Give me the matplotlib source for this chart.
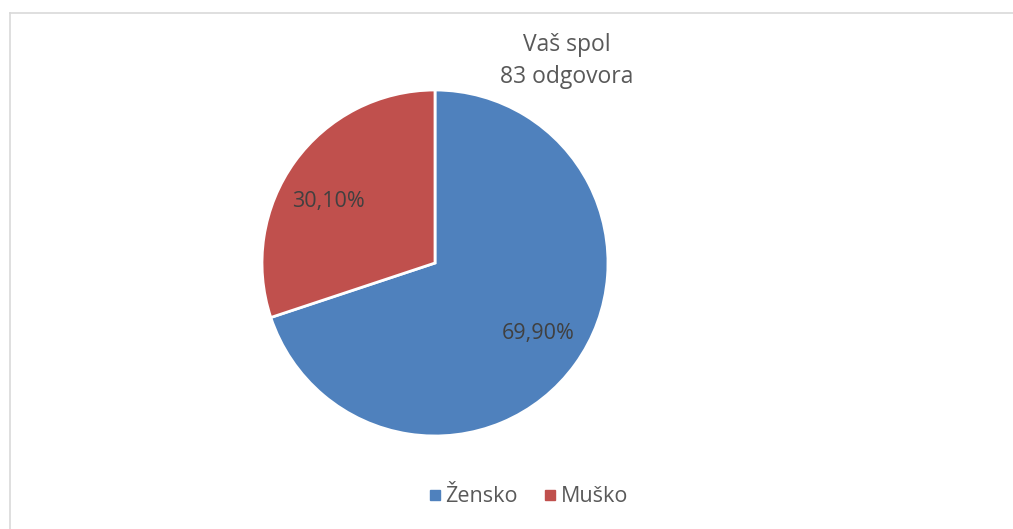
import matplotlib.pyplot as plt
from matplotlib.lines import Line2D

# chart data
categories = ['Žensko', 'Muško']
shares = [69.9, 30.1]
colors = ['#4F81BD', '#C0504D']
title_lines = ['Vaš spol', '83 odgovora']

W, H = 1013, 529
cx, cy, r = 435, H - 263, 173
plt.rcParams['font.family'] = ['Open Sans', 'DejaVu Sans']

fig = plt.figure(figsize=(W / 100, H / 100), dpi=100)
ax = fig.add_axes([0, 0, 1, 1])

wedges, _, autotexts = ax.pie(
    shares, colors=colors, startangle=90, counterclock=False,
    center=(cx, cy), radius=r,
    autopct=lambda p: f'{p:.2f}%'.replace('.', ','), pctdistance=0.72,
    wedgeprops=dict(edgecolor='white', linewidth=2),
    textprops=dict(color='#404040', fontsize=15.5))
# excel-style label placement (offset from center)
autotexts[0].set_position((cx + 103, cy - 70))
autotexts[1].set_position((cx - 107, cy + 62))
ax.set_xlim(0, W)
ax.set_ylim(0, H)
ax.set_aspect('equal')
ax.axis('off')

# title
fig.text(567 / W, 1 - 45 / H, title_lines[0], ha='center', va='center',
         fontsize=16.5, color='#595959')
fig.text(567 / W, 1 - 77 / H, title_lines[1], ha='center', va='center',
         fontsize=16.5, color='#595959')

# legend
handles = [Line2D([], [], marker='s', linestyle='', markersize=7, color=c)
           for c in colors]
fig.legend(handles, categories, loc='center', bbox_to_anchor=(526 / W, 1 - 497 / H),
           ncol=2, frameon=False, fontsize=15.5, labelcolor='#595959',
           handletextpad=0.0, columnspacing=1.0, handlelength=1.0)

# outer border (cut at right/bottom edges)
fig.add_artist(Line2D([9.5 / W, 1], [1 - 12.5 / H, 1 - 12.5 / H],
                      color='#D9D9D9', linewidth=1.2, transform=fig.transFigure))
fig.add_artist(Line2D([9.5 / W, 9.5 / W], [1 - 12.5 / H, 0],
                      color='#D9D9D9', linewidth=1.2, transform=fig.transFigure))

fig.savefig('out.png', dpi=100)
